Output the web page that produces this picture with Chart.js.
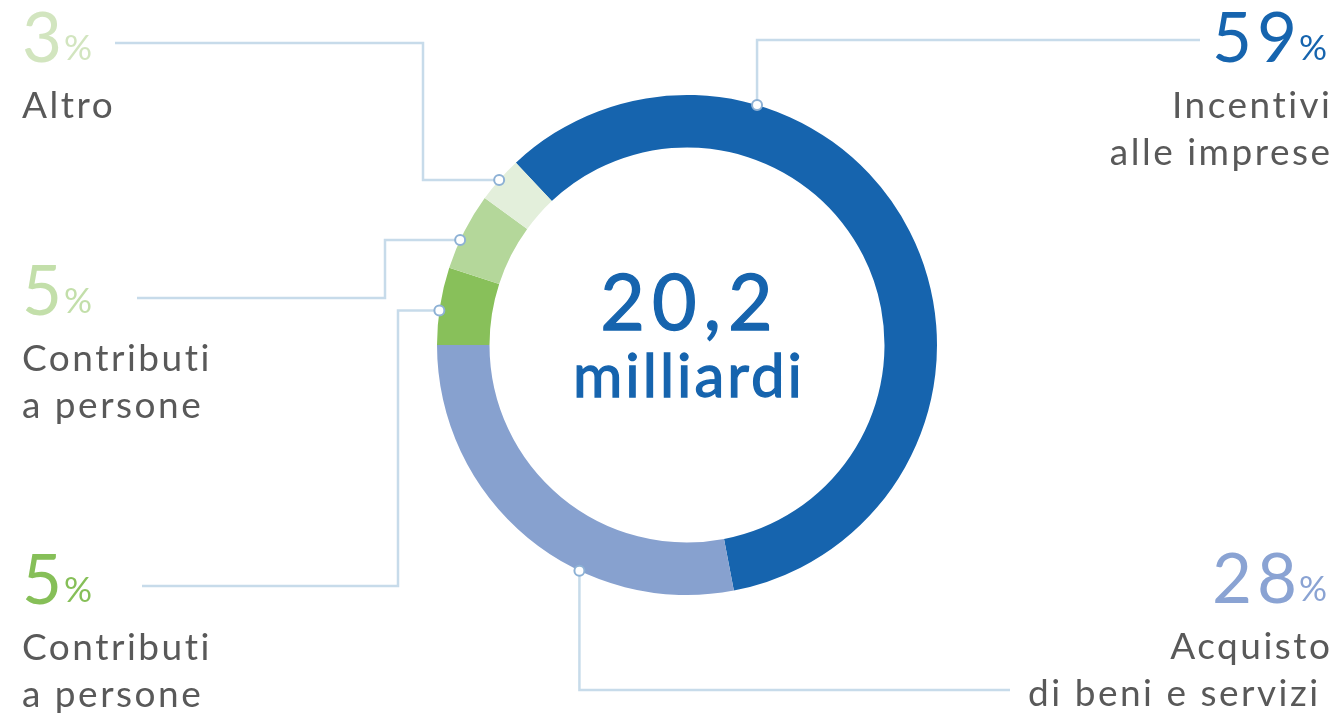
<!DOCTYPE html>
<html lang="it">
<head>
<meta charset="utf-8">
<title>20,2 miliardi</title>
<script src="https://cdn.jsdelivr.net/npm/chart.js@4/dist/chart.umd.min.js"></script>
<style>
  html, body { margin: 0; padding: 0; background: #fff; }
  #box { width: 1335px; height: 714px; }
</style>
</head>
<body>
<div id="box"><canvas id="spesaChart"></canvas></div>
<script>
// data
const categories = [
    ["Incentivi", "alle imprese"],
    ["Acquisto", "di beni e servizi "],
    ["Contributi", "a persone"],
    ["Contributi", "a persone"],
    ["Altro"]
];
const shares = [59, 28, 5, 5, 3];
const sliceColors = ["#1664ae", "#87a1cf", "#88c05a", "#b4d79a", "#e3efdb"];
const pctColors = ["#1664ae", "#8aa3d3", "#86bf58", "#c3dfaa", "#d2e5bf"];
const totalLines = ["20,2", "milliardi"];

// where each callout sits (fraction along the slice, route of the leader line, text block)
const callouts = [
    { at: 0.28, side: "right", lineY: 40, endX: 1200, textX: 1330, pctY: 62 },
    { at: 0.36, side: "right", lineY: 690, endX: 1010, textX: 1330, pctY: 603 },
    { at: 0.44, side: "left", elbowX: 398, lineY: 586, endX: 142, textX: 22, pctY: 604 },
    { at: 0.38, side: "left", elbowX: 385, lineY: 298, endX: 137, textX: 22, pctY: 315 },
    { at: 0.49, side: "left", elbowX: 423, lineY: 43, endX: 115, textX: 22, pctY: 62 }
];

const textGray = "#595959";
const leaderColor = "#c7dbea";
const FONT = "Lato, 'Open Sans', sans-serif";

// the "Acquisto" slice ends exactly at nine o'clock
const rotation = 270 - (shares[0] + shares[1]) / shares.reduce((a, b) => a + b, 0) * 360;

function spaced(ctx, px) {
    ctx.letterSpacing = px + "px";
}

const calloutPlugin = {
    id: "callouts",
    afterDraw(chart) {
        const ctx = chart.ctx;
        const arcs = chart.getDatasetMeta(0).data;

        ctx.save();
        arcs.forEach((arc, i) => {
            const c = callouts[i];
            const p = arc.getProps(["x", "y", "startAngle", "endAngle", "outerRadius"], true);
            const a = p.startAngle + (p.endAngle - p.startAngle) * c.at;
            const mx = p.x + Math.cos(a) * p.outerRadius;
            const my = p.y + Math.sin(a) * p.outerRadius;

            // leader line
            ctx.strokeStyle = leaderColor;
            ctx.lineWidth = 2.5;
            ctx.beginPath();
            ctx.moveTo(mx, my);
            if (c.side === "right") {
                ctx.lineTo(mx, c.lineY);
                ctx.lineTo(c.endX, c.lineY);
            } else {
                ctx.lineTo(c.elbowX, my);
                ctx.lineTo(c.elbowX, c.lineY);
                ctx.lineTo(c.endX, c.lineY);
            }
            ctx.stroke();

            // marker
            ctx.beginPath();
            ctx.arc(mx, my, 5, 0, Math.PI * 2);
            ctx.fillStyle = "#fff";
            ctx.fill();
            ctx.strokeStyle = "#8db1d5";
            ctx.lineWidth = 2;
            ctx.stroke();

            // percentage
            const num = String(shares[i]);
            ctx.fillStyle = pctColors[i];
            ctx.textBaseline = "alphabetic";
            ctx.textAlign = "left";
            spaced(ctx, 5);
            ctx.font = "400 69px " + FONT;
            const numW = ctx.measureText(num).width;
            spaced(ctx, 0);
            ctx.font = "400 35px " + FONT;
            const pctW = ctx.measureText("%").width;
            const x0 = c.side === "right" ? c.textX - numW - pctW : c.textX;
            spaced(ctx, 5);
            ctx.font = "400 69px " + FONT;
            ctx.fillText(num, x0, c.pctY);
            spaced(ctx, 0);
            ctx.font = "400 35px " + FONT;
            ctx.fillText("%", x0 + numW - 3, c.pctY - 2);

            // category
            ctx.fillStyle = textGray;
            ctx.font = "400 37px " + FONT;
            spaced(ctx, 2.5);
            ctx.textAlign = c.side === "right" ? "right" : "left";
            categories[i].forEach((line, k) => {
                ctx.fillText(line, c.side === "right" ? c.textX + 2.5 : c.textX, c.pctY + 56 + k * 47);
            });
        });

        // total in the hole
        const cx = arcs[0].x, cy = arcs[0].y;
        ctx.fillStyle = "#1664ae";
        ctx.strokeStyle = "#1664ae";
        ctx.lineWidth = 1.3;
        ctx.textAlign = "center";
        spaced(ctx, 7);
        ctx.font = "400 77px " + FONT;
        ctx.fillText(totalLines[0], cx + 3, cy - 15);
        ctx.strokeText(totalLines[0], cx + 3, cy - 15);
        spaced(ctx, 3);
        ctx.font = "400 60px " + FONT;
        ctx.fillText(totalLines[1], cx + 2, cy + 52);
        ctx.strokeText(totalLines[1], cx + 2, cy + 52);
        ctx.restore();
    }
};

function drawChart() {
    const ctx = document.getElementById("spesaChart").getContext("2d");

    window.spesaChart = new Chart(ctx, {
        type: "doughnut",
        data: {
            labels: categories.map(c => c.join(" ")),
            datasets: [{
                data: shares,
                backgroundColor: sliceColors,
                borderWidth: 0
            }]
        },
        options: {
            responsive: true,
            maintainAspectRatio: false,
            animation: false,
            cutout: "79%",
            rotation: rotation,
            layout: { padding: { left: 437, right: 398, top: 95, bottom: 119 } },
            plugins: {
                legend: { display: false },
                tooltip: { enabled: false }
            }
        },
        plugins: [calloutPlugin]
    });
}

window.onload = function () { drawChart(); };
</script>
</body>
</html>
